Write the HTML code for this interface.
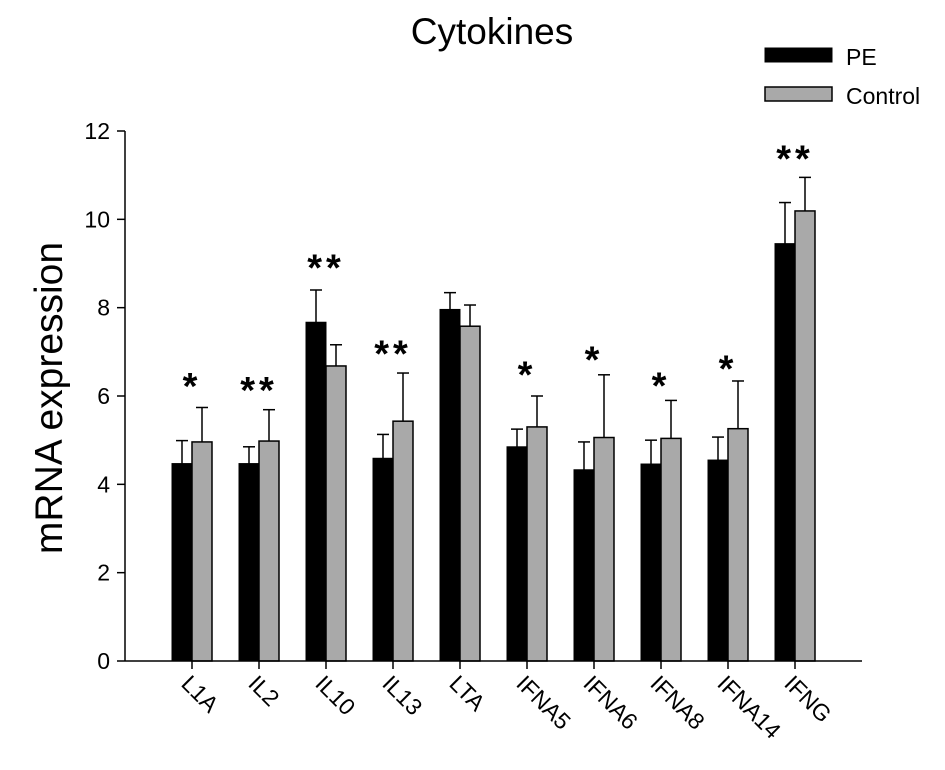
<!DOCTYPE html>
<html><head><meta charset="utf-8"><style>
body{margin:0;background:#fff}
svg text{font-family:"Liberation Sans",sans-serif;fill:#000}
</style></head><body>
<svg id="chart" width="945" height="765" viewBox="0 0 945 765" xmlns="http://www.w3.org/2000/svg">
<text x="492" y="44" font-size="37" text-anchor="middle">Cytokines</text>
<text transform="translate(62,398) rotate(-90)" font-size="39" text-anchor="middle">mRNA expression</text>
<g>
<rect x="765" y="48" width="67" height="14" fill="#000" stroke="#000"/>
<text x="846" y="65" font-size="23">PE</text>
<rect x="765" y="87" width="67" height="14" fill="#a9a9a9" stroke="#000" stroke-width="1.5"/>
<text x="846" y="104" font-size="23">Control</text>
</g>
<g id="plot"></g>
</svg>
<script>
const categories=["L1A","IL2","IL10","IL13","LTA","IFNA5","IFNA6","IFNA8","IFNA14","IFNG"];
const peValues=[4.47,4.47,7.67,4.59,7.96,4.85,4.33,4.46,4.55,9.45];
const peErrors=[0.52,0.38,0.73,0.54,0.38,0.40,0.63,0.54,0.52,0.93];
const controlValues=[4.96,4.98,6.68,5.43,7.58,5.30,5.06,5.04,5.26,10.19];
const controlErrors=[0.78,0.71,0.48,1.09,0.48,0.70,1.42,0.86,1.08,0.76];
const stars=["*","**","**","**","","*","*","*","*","**"];
const starValues=[6.39,6.3,9.07,7.12,0,6.65,6.99,6.4,6.78,11.54];
const yTicks=[0,2,4,6,8,10,12];

const NS="http://www.w3.org/2000/svg";
const g=document.getElementById('plot');
const y=v=>661-v*(530/12);
const x=i=>192+i*67;
function mk(t,a){const e=document.createElementNS(NS,t);for(const k in a)e.setAttribute(k,a[k]);g.appendChild(e);return e;}
let e;
e=mk('line',{x1:125,y1:y(0),x2:125,y2:y(12),stroke:'#000','stroke-width':1.5});


yTicks.forEach(t=>{
 e=mk('line',{x1:117,y1:y(t),x2:125,y2:y(t),stroke:'#000','stroke-width':1.5});
 
 
 e=mk('text',{x:110,y:y(t)+8,'font-size':23,'text-anchor':'end'});e.textContent=t;
 
 
});
categories.forEach((c,i)=>{
 const cx=x(i);
 [[cx-10,peValues[i],peErrors[i]],[cx+10,controlValues[i],controlErrors[i]]].forEach(([ex,v,er])=>{
  e=mk('line',{x1:ex,y1:y(v),x2:ex,y2:y(v+er),stroke:'#000','stroke-width':1.5});
  
  
  e=mk('line',{x1:ex-6,y1:y(v+er),x2:ex+6,y2:y(v+er),stroke:'#000','stroke-width':1.5});
  
  
 });
 e=mk('rect',{x:cx-20,y:y(peValues[i]),width:20,height:y(0)-y(peValues[i]),fill:'#000',stroke:'#000','stroke-width':1});
 
 
 e=mk('rect',{x:cx,y:y(controlValues[i]),width:20,height:y(0)-y(controlValues[i]),fill:'#a9a9a9',stroke:'#000','stroke-width':1.5});
 
 
 e=mk('line',{x1:cx,y1:y(0),x2:cx,y2:y(0)+8,stroke:'#000','stroke-width':1.5});
 
 
 e=mk('text',{transform:`translate(${cx-12},${y(0)+24}) rotate(45)`,'font-size':23});e.textContent=c;
 
 
 if(stars[i]){
  e=mk('text',{x:cx,y:y(starValues[i])+20,'font-size':38,'font-weight':'bold','text-anchor':'middle','letter-spacing':'4'});e.textContent=stars[i];
  
  
 }
});
e=mk('line',{x1:125,y1:y(0),x2:862,y2:y(0),stroke:'#000','stroke-width':1.5});


</script>
</body></html>
